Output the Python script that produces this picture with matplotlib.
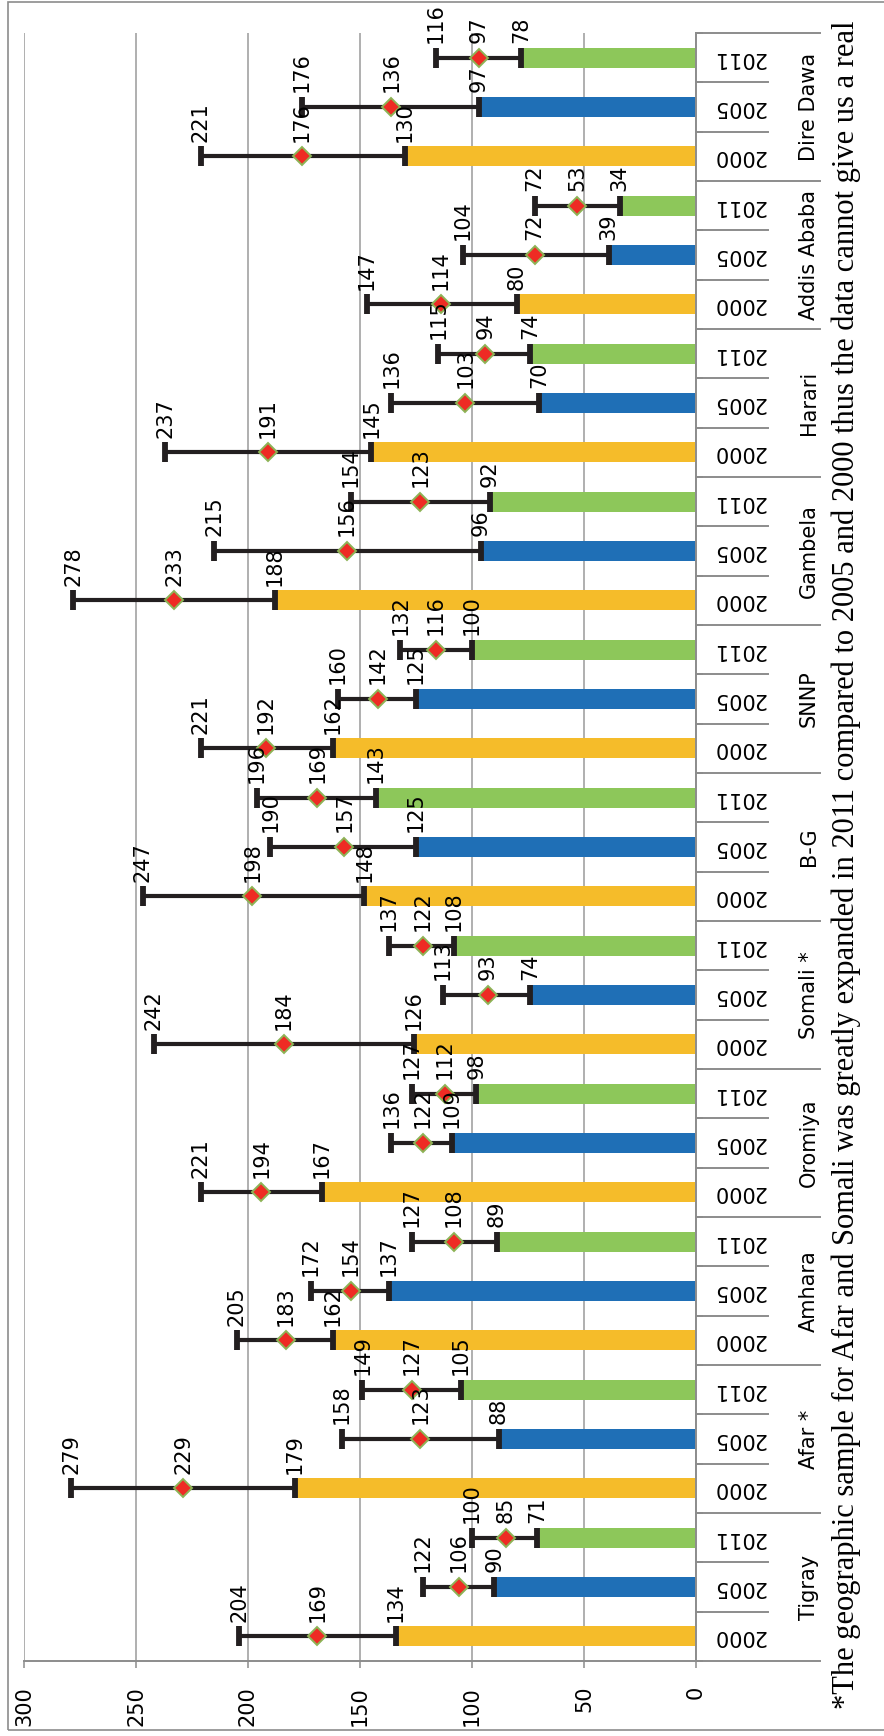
import numpy as np
import matplotlib
matplotlib.use('Agg')
import matplotlib.pyplot as plt
from matplotlib.patches import Rectangle

regions = ['Tigray', 'Afar *', 'Amhara', 'Oromiya', 'Somali *', 'B-G', 'SNNP',
           'Gambela', 'Harari', 'Addis Ababa', 'Dire Dawa']
years = ['2000', '2005', '2011']

# per region: 2000, 2005, 2011
lower = [134, 90, 71, 179, 88, 105, 162, 137, 89, 167, 109, 98, 126, 74, 108,
         148, 125, 143, 162, 125, 100, 188, 96, 92, 145, 70, 74, 80, 39, 34,
         130, 97, 78]
estimate = [169, 106, 85, 229, 123, 127, 183, 154, 108, 194, 122, 112, 184, 93, 122,
            198, 157, 169, 192, 142, 116, 233, 156, 123, 191, 103, 94, 114, 72, 53,
            176, 136, 97]
upper = [204, 122, 100, 279, 158, 149, 205, 172, 127, 221, 136, 127, 242, 113, 137,
         247, 190, 196, 221, 160, 132, 278, 215, 154, 237, 136, 115, 147, 104, 72,
         221, 176, 116]

note = ('*The geographic sample for Afar and Somali was greatly expanded in 2011 '
        'compared to 2005 and 2000 thus the data cannot give us a real')

year_colors = {'2000': '#F5BC2A', '2005': '#1F6FB6', '2011': '#8DC75A'}
gray = '#8C8C8C'

W, H = 884, 1736
fig = plt.figure(figsize=(W / 100, H / 100), dpi=100)
ax = fig.add_axes([24 / W, 1 - 1661 / H, 672 / W, 1628 / H])

n = len(lower)
y = np.arange(n)
lab_years = [years[i % 3] for i in range(n)]
lo = np.array(lower)
est = np.array(estimate)
up = np.array(upper)

ax.barh(y, lo, height=0.4, color=[year_colors[yr] for yr in lab_years], zorder=2)
ax.errorbar(est, y, xerr=[est - lo, up - est], fmt='none', ecolor='#231F20',
            elinewidth=3.0, capsize=7.2, capthick=4.2, zorder=3)
ax.plot(est, y, 'D', ms=9.5, mfc='#EE2B24', mec='#8DB356', mew=1.4, zorder=4)

for vals in (lo, est, up):
    for yi, v in zip(y, vals):
        ax.annotate(str(v), (v, yi), xytext=(0, 10.5), textcoords='offset points',
                    rotation=90, ha='center', va='bottom', fontsize=15, zorder=5)

ax.set_xlim(300, 0)
ax.set_ylim(-0.5, n - 0.5)
ax.set_xticks(np.arange(0, 301, 50))
ax.tick_params(axis='x', direction='out', length=5, width=1.1, color=gray,
               pad=13, labelsize=15, labelrotation=90)
ax.grid(axis='x', color='#9A9A9A', lw=1.1, zorder=0)
ax.set_yticks(np.arange(-0.5, n, 1))
ax.set_yticklabels([])
ax.yaxis.tick_right()
ax.tick_params(axis='y', direction='out', length=5, width=1.4, color='#7F7F7F')
for s in ('left', 'top'):
    ax.spines[s].set_visible(False)
for s in ('right', 'bottom'):
    ax.spines[s].set_color(gray)
    ax.spines[s].set_linewidth(1.4)

# multi-level category axis on the right
tr = ax.get_yaxis_transform()
for b in np.arange(-0.5, n, 1):
    x_end = 1.1845 if (b + 0.5) % 3 == 0 else 1.107
    ax.plot([1.0, x_end], [b, b], color=gray, lw=1.4, transform=tr, clip_on=False)
for yi, yr in zip(y, lab_years):
    ax.text(1.064, yi, yr, transform=tr, rotation=180, ha='center', va='center',
            fontsize=15)
for k, reg in enumerate(regions):
    ax.text(1.168, 3 * k + 1, reg, transform=tr, rotation=90, ha='center',
            va='center', fontsize=15)

fig.text(846 / W, 1 - 1709 / H, note, rotation=90, ha='center', va='bottom',
         fontsize=22, family='Liberation Serif')
fig.patches.append(Rectangle((8 / W, 1 - 1730 / H), 1.0, 1728 / H, fill=False,
                             edgecolor=gray, lw=1.2, transform=fig.transFigure))

fig.savefig('out.png', dpi=100)
